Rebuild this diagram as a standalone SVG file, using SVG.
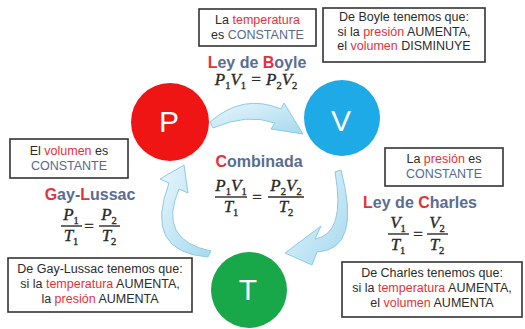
<svg xmlns="http://www.w3.org/2000/svg" width="525" height="329" viewBox="0 0 525 329">
<style>
.box{fill:#fff;stroke:#333;stroke-width:1.6}
.bt{font-family:"Liberation Sans",Arial,sans-serif;font-size:12.5px;fill:#2b2b2b;text-anchor:middle}
.r{fill:#e5313a}
.g{fill:#566a8c}
.title{font-family:"Liberation Sans",Arial,sans-serif;font-size:16px;font-weight:bold;fill:#5a6d90;text-anchor:middle}
.f{font-family:"Liberation Serif","Times New Roman",serif;font-size:17px;font-style:italic;fill:#2a2a2a;stroke:#2a2a2a;stroke-width:0.35;text-anchor:middle}
.s{font-size:10.5px;font-style:normal}
.fl{stroke:#2a2a2a;stroke-width:1.4}
.lt{font-family:"Liberation Sans",Arial,sans-serif;font-size:30px;fill:#fff;text-anchor:middle}
.arr{fill:url(#ag);stroke:#8ccbe4;stroke-width:1}
</style>
<defs>
<linearGradient id="ag" x1="0" y1="0" x2="1" y2="1">
<stop offset="0" stop-color="#e8f6fc"/>
<stop offset="1" stop-color="#a6d9ee"/>
</linearGradient>
</defs>
<rect width="525" height="329" fill="#fff"/>

<g id="connectors">
<path class="arr" d="M 210 122 Q 243 93 281 109 L 284 103 L 303 134 L 271 129 L 275 123 Q 247 113 213 128 Z"/>
<path class="arr" d="M 335 172 Q 346 234 315 239 L 321 226 L 285 253 L 312 265 L 317 252 Q 362 250 341 170 Z"/>
<path class="arr" d="M 211 251 Q 157 240 179 189 L 188 193 L 184 165 L 160 179 L 169 183 Q 143 252 208 257 Z"/>
</g>

<g id="node-P">
<circle cx="170" cy="122" r="39" fill="#f01515"/>
<text class="lt" x="169" y="132">P</text>
</g>
<g id="node-V">
<circle cx="342" cy="118" r="38" fill="#1eaae6"/>
<text class="lt" x="341" y="131">V</text>
</g>
<g id="node-T">
<circle cx="249" cy="290" r="38" fill="#18a84a"/>
<text class="lt" x="248" y="300">T</text>
</g>

<g id="box-temp-const">
<rect class="box" x="199" y="9" width="117" height="37"/>
<text class="bt" x="257.5" y="24">La <tspan class="r">temperatura</tspan></text>
<text class="bt" x="257.5" y="39">es <tspan class="g">CONSTANTE</tspan></text>
</g>
<g id="box-boyle">
<rect class="box" x="323" y="8" width="162" height="54"/>
<text class="bt" x="404" y="21">De Boyle tenemos que:</text>
<text class="bt" x="404" y="35.5">si la <tspan class="r">presión</tspan> AUMENTA,</text>
<text class="bt" x="404" y="50">el <tspan class="r">volumen</tspan> DISMINUYE</text>
</g>
<g id="box-vol-const">
<rect class="box" x="10" y="139" width="118" height="39"/>
<text class="bt" x="69" y="155">El <tspan class="r">volumen</tspan> es</text>
<text class="bt" x="69" y="170"><tspan class="g">CONSTANTE</tspan></text>
</g>
<g id="box-pres-const">
<rect class="box" x="385" y="148" width="118" height="38"/>
<text class="bt" x="444" y="163">La <tspan class="r">presión</tspan> es</text>
<text class="bt" x="444" y="178"><tspan class="g">CONSTANTE</tspan></text>
</g>
<g id="box-gaylussac">
<rect class="box" x="8" y="258" width="184" height="54"/>
<text class="bt" x="100" y="273">De Gay-Lussac tenemos que:</text>
<text class="bt" x="100" y="288">si la <tspan class="r">temperatura</tspan> AUMENTA,</text>
<text class="bt" x="100" y="303">la <tspan class="r">presión</tspan> AUMENTA</text>
</g>
<g id="box-charles">
<rect class="box" x="342" y="262" width="180" height="55"/>
<text class="bt" x="432" y="277">De Charles tenemos que:</text>
<text class="bt" x="432" y="292">si la <tspan class="r">temperatura</tspan> AUMENTA,</text>
<text class="bt" x="432" y="307">el <tspan class="r">volumen</tspan> AUMENTA</text>
</g>

<g id="law-boyle">
<text class="title" x="257" y="68"><tspan class="r">L</tspan>ey de <tspan class="r">B</tspan>oyle</text>
<text class="f" x="256" y="85">P<tspan class="s" dy="4">1</tspan><tspan dy="-4">V</tspan><tspan class="s" dy="4">1</tspan><tspan dy="-4"> = P</tspan><tspan class="s" dy="4">2</tspan><tspan dy="-4">V</tspan><tspan class="s" dy="4">2</tspan></text>
</g>
<g id="law-combinada">
<text class="title" x="259" y="167"><tspan class="r">C</tspan>ombinada</text>
<text class="f" x="231" y="191">P<tspan class="s" dy="4">1</tspan><tspan dy="-4">V</tspan><tspan class="s" dy="4">1</tspan></text>
<line class="fl" x1="215" y1="197" x2="247" y2="197"/>
<text class="f" x="231" y="212">T<tspan class="s" dy="4">1</tspan></text>
<text class="f" x="257" y="203" style="font-style:normal">=</text>
<text class="f" x="286" y="191">P<tspan class="s" dy="4">2</tspan><tspan dy="-4">V</tspan><tspan class="s" dy="4">2</tspan></text>
<line class="fl" x1="268" y1="197" x2="304" y2="197"/>
<text class="f" x="286" y="212">T<tspan class="s" dy="4">2</tspan></text>
</g>
<g id="law-gaylussac">
<text class="title" x="90" y="200"><tspan class="r">G</tspan>ay-<tspan class="r">L</tspan>ussac</text>
<text class="f" x="71" y="220">P<tspan class="s" dy="4">1</tspan></text>
<line class="fl" x1="61" y1="226" x2="82" y2="226"/>
<text class="f" x="71" y="241">T<tspan class="s" dy="4">1</tspan></text>
<text class="f" x="89" y="232" style="font-style:normal">=</text>
<text class="f" x="109" y="220">P<tspan class="s" dy="4">2</tspan></text>
<line class="fl" x1="99" y1="226" x2="120" y2="226"/>
<text class="f" x="109" y="241">T<tspan class="s" dy="4">2</tspan></text>
</g>
<g id="law-charles">
<text class="title" x="420" y="208"><tspan class="r">L</tspan>ey de <tspan class="r">C</tspan>harles</text>
<text class="f" x="398" y="228">V<tspan class="s" dy="4">1</tspan></text>
<line class="fl" x1="388" y1="234" x2="409" y2="234"/>
<text class="f" x="398" y="250">T<tspan class="s" dy="4">1</tspan></text>
<text class="f" x="418" y="240" style="font-style:normal">=</text>
<text class="f" x="437" y="228">V<tspan class="s" dy="4">2</tspan></text>
<line class="fl" x1="427" y1="234" x2="448" y2="234"/>
<text class="f" x="437" y="250">T<tspan class="s" dy="4">2</tspan></text>
</g>
</svg>
